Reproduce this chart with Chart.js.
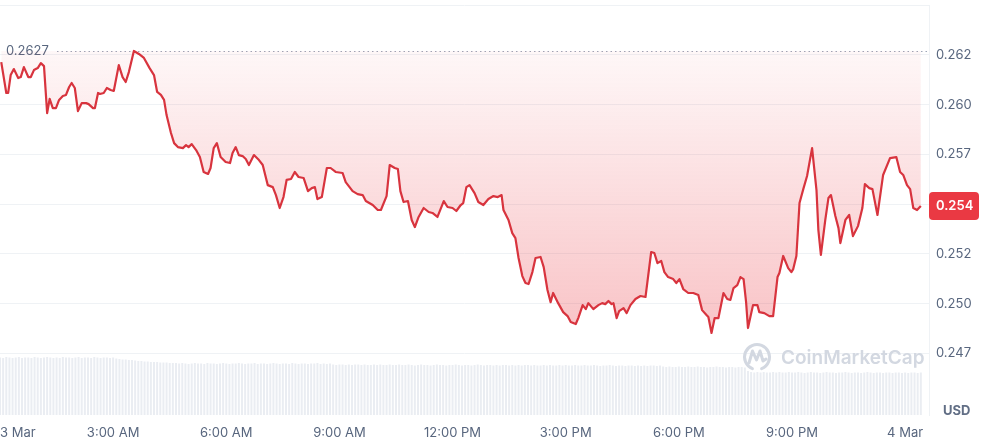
<!DOCTYPE html>
<html>
<head>
<meta charset="utf-8">
<script src="https://cdn.jsdelivr.net/npm/chart.js@4/dist/chart.umd.min.js"></script>
<style>
  html, body { margin: 0; padding: 0; background: #ffffff; }
  #wrap { width: 991px; height: 444px; position: relative; }
</style>
</head>
<body>
<div id="wrap"><canvas id="c"></canvas></div>
<script>
// ---- data (minutes since 3 Mar 00:00, price in USD) ----
const priceMinutes = [2,10,13,17,22,29,33,38,45,49,54,60,65,70,75,79,84,89,94,100,105,110,114,119,124,130,137,141,148,151,156,159,165,170,176,181,189,195,200,205,213,221,229,238,245,250,256,261,265,272,277,283,291,296,300,305,312,318,324,331,335,340,345,351,359,366,370,375,380,386,391,396,404,412,418,426,434,439,445,451,456,463,469,475,483,490,496,501,505,512,520,526,534,545,550,561,569,577,582,593,601,606,615,620,628,633,637,642,649,655,660,666,674,682,688,696,706,712,720,726,733,737,742,747,755,761,769,777,785,792,798,801,809,815,820,825,831,836,841,847,852,860,865,871,876,880,888,896,903,908,916,920,927,932,936,944,952,958,963,968,973,976,981,985,992,997,1003,1011,1019,1027,1036,1041,1046,1052,1057,1063,1071,1076,1081,1087,1095,1103,1111,1117,1124,1127,1132,1137,1143,1151,1157,1162,1167,1173,1178,1183,1187,1190,1198,1205,1208,1216,1224,1230,1237,1240,1246,1254,1259,1262,1267,1272,1278,1284,1292,1299,1302,1306,1313,1318,1322,1329,1334,1337,1345,1351,1357,1365,1372,1376,1383,1388,1396,1405,1416,1426,1432,1437,1443,1448,1453,1459,1465];

const prices = [0.26214,0.26059,0.26059,0.26149,0.26179,0.26134,0.26139,0.26189,0.26139,0.26139,
0.26174,0.26184,0.26209,0.26194,0.25958,0.26029,0.25983,0.25983,0.26024,0.26044,
0.26049,0.26089,0.26109,0.26084,0.25968,0.26008,0.26008,0.26003,0.25983,0.25983,
0.26059,0.26054,0.26059,0.26084,0.26074,0.26069,0.26199,0.26139,0.26114,0.26164,
0.26270,0.26255,0.26235,0.26184,0.26149,0.26064,0.26049,0.26024,0.25948,0.25858,
0.25807,0.25787,0.25782,0.25797,0.25787,0.25802,0.25772,0.25737,0.25662,0.25652,
0.25682,0.25782,0.25807,0.25737,0.25712,0.25707,0.25757,0.25787,0.25747,0.25742,
0.25727,0.25697,0.25747,0.25722,0.25697,0.25596,0.25586,0.25546,0.25481,0.25536,
0.25622,0.25627,0.25662,0.25637,0.25632,0.25566,0.25581,0.25586,0.25526,0.25536,
0.25682,0.25682,0.25662,0.25657,0.25611,0.25566,0.25551,0.25546,0.25516,0.25496,
0.25471,0.25471,0.25541,0.25697,0.25682,0.25677,0.25566,0.25511,0.25516,0.25421,
0.25385,0.25436,0.25481,0.25461,0.25456,0.25436,0.25516,0.25486,0.25481,0.25466,
0.25496,0.25506,0.25586,0.25596,0.25556,0.25511,0.25496,0.25526,0.25541,0.25536,
0.25546,0.25471,0.25421,0.25355,0.25330,0.25230,0.25139,0.25104,0.25099,0.25159,
0.25230,0.25235,0.25184,0.25069,0.25008,0.25054,0.25003,0.24958,0.24938,0.24908,
0.24898,0.24928,0.24993,0.24973,0.25003,0.24973,0.24993,0.25003,0.24998,0.25014,
0.24998,0.25003,0.24928,0.24963,0.24978,0.24953,0.24993,0.25024,0.25039,0.25034,
0.25260,0.25255,0.25204,0.25215,0.25159,0.25134,0.25124,0.25104,0.25124,0.25074,
0.25054,0.25054,0.25044,0.24968,0.24943,0.24933,0.24853,0.24928,0.24928,0.25054,
0.25024,0.25019,0.25079,0.25094,0.25134,0.25124,0.25008,0.24878,0.24993,0.24993,
0.24958,0.24953,0.24938,0.24938,0.25134,0.25154,0.25240,0.25179,0.25159,0.25174,
0.25240,0.25506,0.25576,0.25642,0.25782,0.25571,0.25370,0.25245,0.25421,0.25531,
0.25546,0.25441,0.25380,0.25305,0.25421,0.25446,0.25340,0.25390,0.25481,0.25601,
0.25581,0.25576,0.25446,0.25647,0.25732,0.25737,0.25662,0.25647,0.25596,0.25576,
0.25481,0.25471,0.25491];

// 5-minute volume bars (million USD), starting 3 Mar 00:00
const volumeStepMinutes = 5;
const volumes = [115,114,116,115,114,115,116,114,115,115,114,116,115,114,115,116,115,114,115,114,116,115,115,114,115,116,114,115,115,114,116,115,114,115,115,114,115,
113,112,111,111,110,110,109,
108,108,107,107,106,106,106,105,105,105,104,104,104,
103,104,103,102,103,104,103,103,102,104,103,103,102,103,104,103,102,103,103,104,103,102,103,103,104,102,103,103,102,103,104,103,102,103,103,102,104,103,102,103,103,102,103,103,104,102,103,102,103,
101,100,101,101,100,101,100,101,101,100,101,100,100,101,100,101,100,100,101,100,
100,101,100,100,101,100,99,100,101,100,100,99,100,101,100,100,99,100,100,101,
100,99,100,100,99,100,101,100,99,100,100,99,100,99,100,100,99,100,99,100,
99,100,100,99,100,99,99,100,99,100,99,99,100,99,100,99,99,100,99,99,
100,99,99,100,99,98,99,99,100,99,98,99,99,98,99,99,98,99,98,99,
98,99,99,98,99,
97,96,97,96,96,97,96,96,97,96,96,97,96,96,95,96,96,97,96,96,95,96,96,95,96,96,95,
88,86,85,86,85,86,85,85,86,85,86,85,85,86,85,85,86,85,84,85,86,85,85,84,85,86,85,85,84,85,85,86,85,84,85,85,84,85,86,85,84,85,85,84,85,85,84,85,85,84,85,84,85,85,84,85];

const xTickValues = [0,180,360,540,720,900,1080,1260,1440];
const xTickLabels = ['3 Mar','3:00 AM','6:00 AM','9:00 AM','12:00 PM','3:00 PM','6:00 PM','9:00 PM','4 Mar'];
const yTickValues = [0.2475,0.25,0.2525,0.255,0.2575,0.26,0.2625];
const highValue = 0.2627;
const currency = 'USD';
const brand = 'CoinMarketCap';

// ---- chart ----
const X_MIN = 0, X_MAX = 1478;
const Y_MIN = 0.24441, Y_MAX = 0.26501;
const RED = '#ea3943';
const LINE = '#d8343e';
const GREY_TEXT = '#58667e';
const GRID = '#eff2f5';

Chart.defaults.font.family = 'Inter, "Noto Sans", sans-serif';

const trunc3 = v => (Math.floor(v * 1000 + 1e-7) / 1000).toFixed(3);

const pricePoints = priceMinutes.map((m, i) => ({ x: m, y: prices[i] }));
const volumePoints = volumes.map((v, i) => ({ x: i * volumeStepMinutes, y: v }));

const overlayPlugin = {
  id: 'overlay',
  beforeDatasetsDraw(chart) {
    const { ctx, chartArea, scales } = chart;
    const y = Math.round(scales.y.getPixelForValue(highValue)) + 0.5;
    ctx.save();
    ctx.strokeStyle = '#9ea7b8';
    ctx.lineWidth = 1;
    ctx.setLineDash([1.5, 3]);
    ctx.beginPath();
    ctx.moveTo(57, y);
    ctx.lineTo(chartArea.right, y);
    ctx.stroke();
    ctx.setLineDash([]);
    ctx.fillStyle = GREY_TEXT;
    ctx.font = '13px Inter';
    ctx.textAlign = 'left';
    ctx.textBaseline = 'middle';
    ctx.fillText(String(highValue), 6, y);
    ctx.restore();
  },
  afterDatasetsDraw(chart) {
    const { ctx } = chart;
    ctx.save();
    // watermark logo
    ctx.strokeStyle = '#d3d8e1';
    ctx.lineWidth = 3;
    ctx.lineJoin = 'round';
    ctx.lineCap = 'round';
    ctx.beginPath();
    ctx.arc(757, 357, 12.5, Math.PI * 0.62, Math.PI * 2.38);
    ctx.stroke();
    ctx.beginPath();
    ctx.moveTo(749, 363);
    ctx.lineTo(752.5, 351);
    ctx.lineTo(756.5, 360);
    ctx.lineTo(760, 351);
    ctx.lineTo(763, 361);
    ctx.lineTo(766, 359);
    ctx.stroke();
    ctx.fillStyle = '#d3d8e1';
    ctx.font = '600 19px Inter';
    ctx.textAlign = 'left';
    ctx.textBaseline = 'middle';
    ctx.fillText(brand, 781, 358);
    ctx.restore();
  },
  afterDraw(chart) {
    const { ctx, chartArea, scales } = chart;
    const last = prices[prices.length - 1];
    const y = scales.y.getPixelForValue(last);
    const x0 = chartArea.right;
    const w = 50, h = 28, r = 4;
    ctx.save();
    ctx.fillStyle = RED;
    ctx.beginPath();
    ctx.roundRect(x0, y - h / 2, w, h, r);
    ctx.fill();
    ctx.fillStyle = '#ffffff';
    ctx.font = '600 13px Inter';
    ctx.textAlign = 'left';
    ctx.textBaseline = 'middle';
    ctx.fillText(trunc3(last), x0 + 7, y);
    // currency label
    ctx.fillStyle = '#616e85';
    ctx.font = '700 13px Inter';
    ctx.fillText(currency, 943, 411);
    ctx.restore();
  }
};

new Chart(document.getElementById('c'), {
  data: {
    datasets: [
      {
        type: 'line',
        data: pricePoints,
        xAxisID: 'x',
        yAxisID: 'y',
        borderColor: LINE,
        borderWidth: 2.2,
        borderJoinStyle: 'round',
        pointRadius: 0,
        tension: 0,
        order: 0,
        fill: { value: highValue },
        backgroundColor: (c) => {
          const chart = c.chart;
          const { chartArea, scales } = chart;
          if (!chartArea || !scales.y) return 'rgba(234,57,67,0.1)';
          const top = scales.y.getPixelForValue(highValue);
          const bottom = scales.y.getPixelForValue(Math.min(...prices));
          const g = chart.ctx.createLinearGradient(0, top, 0, bottom);
          g.addColorStop(0, 'rgba(234,57,67,0.04)');
          g.addColorStop(1, 'rgba(234,57,67,0.30)');
          return g;
        }
      },
      {
        type: 'bar',
        data: volumePoints,
        xAxisID: 'x',
        yAxisID: 'yv',
        backgroundColor: '#eaedf2',
        borderWidth: 0,
        barPercentage: 0.7,
        categoryPercentage: 0.9,
        order: 1
      }
    ]
  },
  options: {
    responsive: true,
    maintainAspectRatio: false,
    animation: false,
    layout: { padding: { top: 5, left: 0, right: 0, bottom: 0 } },
    plugins: { legend: { display: false }, tooltip: { enabled: false } },
    scales: {
      x: {
        type: 'linear',
        position: 'bottom',
        min: X_MIN,
        max: X_MAX,
        offset: false,
        grid: { display: false, drawTicks: false, offset: false },
        border: { display: false },
        afterBuildTicks: (s) => {
          s.ticks = xTickValues.map(v => ({ value: v })).concat([{ value: X_MAX }]);
        },
        afterFit: (s) => { s.height = 29; s.paddingLeft = 0; s.paddingRight = 0; },
        ticks: {
          autoSkip: false,
          maxRotation: 0,
          align: 'inner',
          padding: 10,
          color: GREY_TEXT,
          font: { size: 13 },
          callback: (v, i) => (i < xTickLabels.length ? xTickLabels[i] : '')
        }
      },
      y: {
        type: 'linear',
        position: 'right',
        min: Y_MIN,
        max: Y_MAX,
        grid: { color: GRID, drawTicks: false },
        border: { display: true, color: GRID },
        afterBuildTicks: (s) => {
          s.ticks = yTickValues.map(v => ({ value: v })).concat([{ value: Y_MAX }]);
        },
        afterFit: (s) => { s.width = 62; s.paddingTop = 0; s.paddingBottom = 0; },
        ticks: {
          autoSkip: false,
          padding: 7,
          color: GREY_TEXT,
          font: { size: 13 },
          callback: (v) => (v > 0.265 ? '' : trunc3(v))
        }
      },
      yv: {
        type: 'linear',
        display: false,
        min: 0,
        max: 820
      }
    }
  },
  plugins: [overlayPlugin]
});
</script>
</body>
</html>
